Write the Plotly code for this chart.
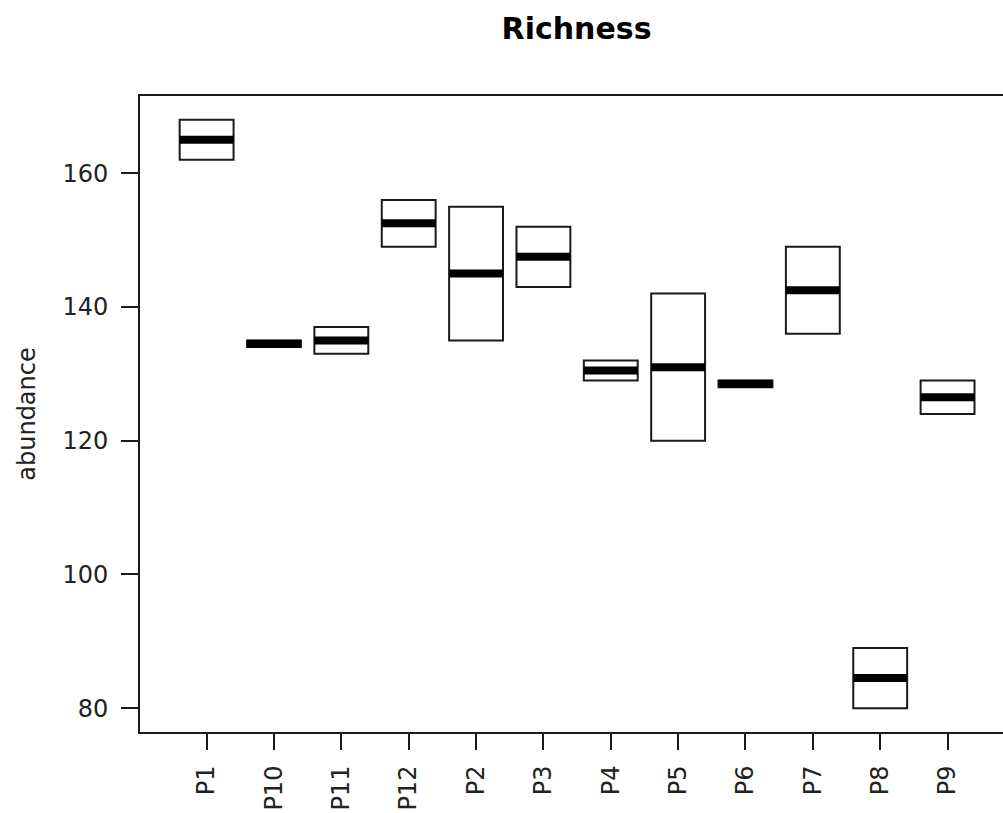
import plotly.graph_objects as go

# Richness per plot: lower hinge, median, upper hinge
plots = ["P1", "P10", "P11", "P12", "P2", "P3", "P4", "P5", "P6", "P7", "P8", "P9"]
lower = [162, 134, 133, 149, 135, 143, 129, 120, 128, 136, 80, 124]
median = [165, 134.5, 135, 152.5, 145, 147.5, 130.5, 131, 128.5, 142.5, 84.5, 126.5]
upper = [168, 135, 137, 156, 155, 152, 132, 142, 129, 149, 89, 129]

y_ticks = [80, 100, 120, 140, 160]

pos = list(range(1, len(plots) + 1))
half = 0.4  # half box width in axis units

fig = go.Figure()

# boxes: white rectangles from lower to upper hinge
fig.add_trace(go.Bar(
    x=pos,
    base=lower,
    y=[u - l for u, l in zip(upper, lower)],
    width=[2 * half] * len(pos),
    marker=dict(color="white", line=dict(color="#1a1a1a", width=2)),
    showlegend=False,
    hoverinfo="skip",
))

# thick median bars
mx, my = [], []
for p, m in zip(pos, median):
    mx += [p - half, p + half, None]
    my += [m, m, None]
fig.add_trace(go.Scatter(
    x=mx, y=my, mode="lines",
    line=dict(color="black", width=8),
    showlegend=False, hoverinfo="skip",
))

font_family = "DejaVu Sans, Arial, sans-serif"

fig.update_layout(
    width=1003, height=813,
    margin=dict(l=140, r=0, t=96, b=81),
    paper_bgcolor="white", plot_bgcolor="white",
    barmode="overlay",
    font=dict(family=font_family, size=24, color="#222222"),
    title=dict(
        text="<b>Richness</b>",
        font=dict(family=font_family, size=30, color="black"),
        x=0.5748, xref="container", xanchor="center",
        y=0.9655, yref="container", yanchor="middle",
    ),
    xaxis=dict(
        range=[0.011, 12.823],
        tickmode="array", tickvals=pos, ticktext=plots,
        tickangle=-90,
        ticks="outside", ticklen=16, tickwidth=2, tickcolor="#1a1a1a",
        showline=True, linecolor="#1a1a1a", linewidth=2, mirror=True,
        showgrid=False, zeroline=False,
        tickfont=dict(size=24),
        ticklabelstandoff=6,
    ),
    yaxis=dict(
        range=[76.43, 171.55],
        tickmode="array", tickvals=y_ticks,
        ticks="outside", ticklen=17, tickwidth=2, tickcolor="#1a1a1a",
        showline=True, linecolor="#1a1a1a", linewidth=2, mirror=False,
        showgrid=False, zeroline=False,
        tickfont=dict(size=24),
        ticklabelstandoff=8,
        title=dict(text="abundance", font=dict(size=24), standoff=20),
    ),
)

fig.write_html("out.html")
